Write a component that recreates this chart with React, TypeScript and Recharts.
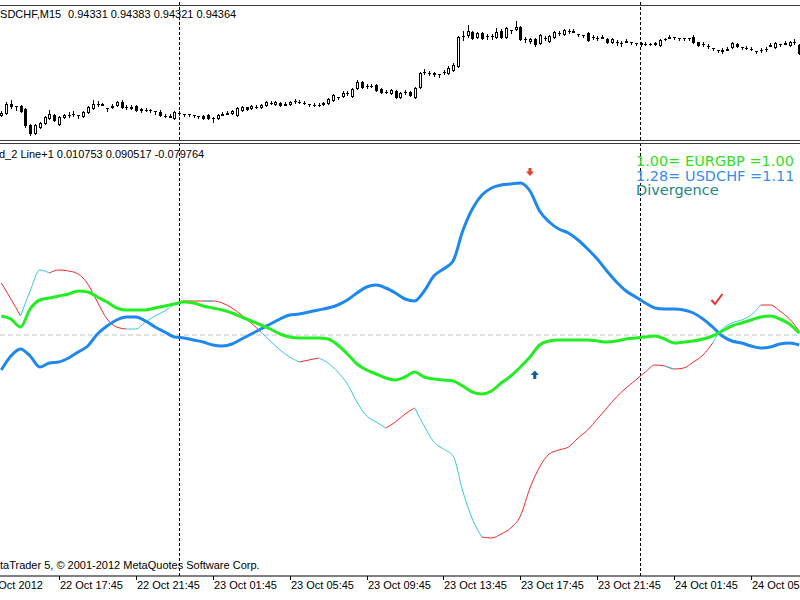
import React from 'react';
import { ComposedChart, Bar, Line, Scatter, XAxis, YAxis, ReferenceLine } from 'recharts';

// USDCHF M15 candles, prices in points (x 0.00001)
const opens = [
  94080, 94088, 94124, 94116, 94116, 94104, 94040, 94008, 94032, 94048,
  94068, 94080, 94044, 94072, 94080, 94084, 94080, 94076, 94092, 94108,
  94124, 94120, 94108, 94112, 94120, 94132, 94112, 94112, 94116, 94104,
  94100, 94100, 94096, 94092, 94076, 94072, 94068, 94088, 94084, 94084,
  94080, 94076, 94076, 94080, 94068, 94068, 94080, 94084, 94088, 94080,
  94100, 94112, 94108, 94112, 94112, 94120, 94128, 94124, 94128, 94120,
  94124, 94136, 94132, 94128, 94124, 94120, 94120, 94124, 94128, 94140,
  94152, 94156, 94168, 94156, 94188, 94212, 94196, 94196, 94200, 94184,
  94172, 94168, 94176, 94152, 94172, 94172, 94152, 94192, 94252, 94248,
  94248, 94244, 94252, 94248, 94260, 94276, 94396, 94400, 94412, 94392,
  94408, 94396, 94396, 94392, 94416, 94392, 94420, 94424, 94432, 94384,
  94376, 94384, 94368, 94388, 94376, 94392, 94408, 94404, 94416, 94412,
  94404, 94400, 94408, 94392, 94388, 94388, 94384, 94372, 94372, 94368,
  94372, 94372, 94368, 94368, 94364, 94364, 94364, 94360, 94384, 94388,
  94392, 94388, 94388, 94388, 94392, 94372, 94364, 94356, 94348, 94340,
  94336, 94340, 94352, 94364, 94352, 94348, 94344, 94336, 94340, 94344,
  94356, 94352, 94364, 94364, 94360, 94372, 94360,
];
const highs = [
  94096, 94132, 94140, 94116, 94120, 94108, 94044, 94044, 94052, 94076,
  94100, 94084, 94076, 94084, 94092, 94096, 94080, 94096, 94116, 94140,
  94136, 94128, 94108, 94124, 94136, 94140, 94120, 94120, 94120, 94108,
  94108, 94104, 94096, 94100, 94084, 94084, 94096, 94096, 94084, 94084,
  94080, 94076, 94080, 94084, 94072, 94084, 94092, 94096, 94100, 94112,
  94116, 94112, 94120, 94120, 94124, 94136, 94136, 94136, 94132, 94132,
  94136, 94144, 94140, 94136, 94124, 94128, 94128, 94132, 94148, 94164,
  94152, 94176, 94176, 94188, 94220, 94216, 94204, 94204, 94204, 94188,
  94180, 94184, 94180, 94172, 94180, 94176, 94192, 94252, 94264, 94256,
  94252, 94244, 94260, 94276, 94288, 94396, 94416, 94440, 94416, 94412,
  94412, 94404, 94404, 94428, 94424, 94432, 94420, 94456, 94436, 94392,
  94388, 94388, 94404, 94396, 94400, 94416, 94416, 94424, 94424, 94424,
  94404, 94400, 94412, 94400, 94396, 94400, 94388, 94388, 94380, 94376,
  94384, 94372, 94368, 94372, 94372, 94368, 94372, 94384, 94388, 94400,
  94392, 94388, 94388, 94388, 94400, 94372, 94372, 94364, 94348, 94340,
  94348, 94352, 94372, 94368, 94352, 94356, 94352, 94336, 94348, 94352,
  94368, 94372, 94364, 94376, 94376, 94384, 94364,
];
const lows = [
  94076, 94084, 94108, 94100, 94092, 94032, 94000, 94004, 94028, 94044,
  94064, 94056, 94040, 94068, 94072, 94076, 94068, 94072, 94088, 94104,
  94116, 94120, 94096, 94108, 94116, 94108, 94104, 94104, 94096, 94092,
  94096, 94092, 94084, 94076, 94072, 94072, 94064, 94080, 94076, 94076,
  94072, 94068, 94064, 94064, 94052, 94064, 94080, 94084, 94084, 94076,
  94096, 94100, 94104, 94108, 94108, 94116, 94124, 94120, 94116, 94120,
  94120, 94128, 94128, 94124, 94116, 94116, 94116, 94120, 94124, 94136,
  94144, 94152, 94160, 94152, 94184, 94188, 94188, 94192, 94176, 94168,
  94168, 94164, 94148, 94148, 94164, 94156, 94148, 94188, 94244, 94240,
  94236, 94232, 94244, 94244, 94256, 94272, 94380, 94392, 94384, 94388,
  94384, 94384, 94384, 94388, 94388, 94388, 94408, 94420, 94380, 94372,
  94368, 94356, 94364, 94380, 94372, 94388, 94400, 94400, 94408, 94412,
  94396, 94392, 94376, 94384, 94380, 94388, 94368, 94368, 94360, 94356,
  94372, 94364, 94360, 94356, 94360, 94360, 94360, 94356, 94380, 94388,
  94384, 94380, 94380, 94380, 94368, 94356, 94356, 94348, 94340, 94332,
  94328, 94340, 94348, 94352, 94344, 94344, 94340, 94328, 94332, 94336,
  94356, 94348, 94356, 94364, 94356, 94364, 94324,
];
const closes = [
  94088, 94124, 94116, 94116, 94096, 94040, 94008, 94040, 94048, 94072,
  94084, 94060, 94072, 94080, 94080, 94084, 94080, 94092, 94112, 94124,
  94124, 94124, 94108, 94116, 94132, 94112, 94112, 94108, 94100, 94100,
  94100, 94100, 94096, 94080, 94076, 94076, 94092, 94088, 94084, 94084,
  94080, 94076, 94068, 94068, 94068, 94080, 94084, 94088, 94096, 94108,
  94112, 94104, 94116, 94112, 94120, 94132, 94128, 94132, 94120, 94124,
  94132, 94136, 94132, 94128, 94124, 94120, 94120, 94128, 94144, 94160,
  94152, 94168, 94168, 94184, 94212, 94192, 94196, 94196, 94180, 94172,
  94172, 94180, 94152, 94168, 94172, 94160, 94188, 94248, 94252, 94248,
  94244, 94244, 94252, 94268, 94280, 94392, 94396, 94416, 94388, 94408,
  94388, 94396, 94396, 94412, 94392, 94428, 94420, 94432, 94384, 94384,
  94384, 94364, 94400, 94388, 94396, 94412, 94408, 94420, 94416, 94416,
  94404, 94400, 94380, 94392, 94388, 94392, 94372, 94384, 94372, 94368,
  94376, 94372, 94368, 94364, 94364, 94364, 94368, 94380, 94384, 94392,
  94392, 94388, 94388, 94388, 94372, 94360, 94364, 94356, 94348, 94340,
  94340, 94344, 94368, 94356, 94352, 94348, 94344, 94336, 94340, 94344,
  94360, 94368, 94364, 94368, 94372, 94372, 94328,
];

// indicator lines, one value every 2 bars, in thousandths
const eurgbp = [
  19, 16, 8, 26, 35, 37, 39, 41, 44, 43,
  38, 33, 27, 25, 25, 25, 27, 29, 31, 33,
  32, 29, 27, 25, 22, 18, 14, 10, 6, 1,
  -2, -3, -3, -3, -4, -10, -19, -29, -35, -39,
  -43, -45, -42, -37, -42, -44, -45, -46, -51, -57,
  -59, -56, -48, -41, -32, -22, -10, -6, -5, -5,
  -5, -5, -6, -7, -6, -4, -3, -2, -1, -4,
  -8, -7, -6, -4, -1, 4, 9, 12, 15, 18,
  19, 16, 11, 2,
];
const usdchf = [
  -35, -21, -14, -21, -32, -28, -27, -23, -17, -11,
  1, 9, 15, 18, 18, 14, 8, 3, -2, -3,
  -5, -7, -10, -11, -9, -4, 1, 6, 11, 16,
  20, 21, 23, 25, 27, 30, 35, 42, 48, 50,
  47, 42, 36, 34, 44, 59, 66, 74, 104, 126,
  140, 147, 150, 151, 152, 144, 124, 113, 106, 102,
  95, 86, 76, 64, 53, 44, 38, 32, 27, 26,
  26, 25, 22, 16, 8, -1, -6, -8, -11, -13,
  -12, -9, -8, -10,
];
const divergence = [
  52, 36, 19, 44, 65, 62, 65, 64, 61, 51,
  33, 16, 8, 6, 6, 13, 19, 24, 31, 34,
  34, 34, 34, 32, 27, 20, 12, 3, -6, -15,
  -22, -27, -25, -23, -28, -37, -49, -67, -81, -87,
  -93, -87, -79, -73, -91, -107, -114, -121, -156, -184,
  -202, -203, -199, -193, -181, -153, -132, -119, -115, -112,
  -103, -95, -84, -73, -62, -53, -45, -37, -30, -31,
  -34, -33, -27, -20, -8, 6, 12, 15, 20, 30,
  30, 24, 16, 4,
];
// colour of each divergence segment: r = red, c = cyan
const divColors = 'rrccc' + 'rrrrrrrr' + 'ccccc' + 'rrr' + 'c' + 'rrrrr' + 'cccc' + 'rr' + 'ccccccc' + 'rrr' +
  'ccccccc' + 'rrrrrrrrrrrrrrrrrrr' + 'c' + 'rrrr' + 'ccccc' + 'rrrr';

const tickBars = [-4, 12, 28, 44, 60, 76, 92, 108, 124, 140, 156];
const tickLabels = [
  '22 Oct 2012', '22 Oct 17:45', '22 Oct 21:45', '23 Oct 01:45', '23 Oct 05:45', '23 Oct 09:45',
  '23 Oct 13:45', '23 Oct 17:45', '23 Oct 21:45', '24 Oct 01:45', '24 Oct 05:45',
];
const daySeparators = [37, 133];
const sellArrows = [{ i: 110, v: 0.163 }];
const buyArrows = [{ i: 111, v: -0.04 }];
const checkMarks = [{ i: 149, v: 0.036 }];

const X_DOMAIN: [number, number] = [-0.27, 166.18];

const candles = opens.map((o, i) => ({
  i,
  open: o / 1e5,
  high: highs[i] / 1e5,
  low: lows[i] / 1e5,
  close: closes[i] / 1e5,
  range: [lows[i] / 1e5, highs[i] / 1e5],
}));

const indData = eurgbp.map((g, k) => {
  const seg = (c: string) => divColors[k] === c || divColors[k - 1] === c;
  return {
    i: k * 2,
    green: g / 1000,
    blue: usdchf[k] / 1000,
    red: seg('r') ? divergence[k] / 1000 : null,
    cyan: seg('c') ? divergence[k] / 1000 : null,
  };
});

const Candle = (p: any) => {
  let { x, y, width, height } = p;
  const d = p.payload;
  if (x == null || !d) return null;
  if (height < 0) {
    y += height;
    height = -height;
  }
  const cx = Math.round(x + width / 2);
  const k = d.high > d.low ? height / (d.high - d.low) : 0;
  const yo = Math.round(y + (d.high - d.open) * k);
  const yc = Math.round(y + (d.high - d.close) * k);
  const top = Math.min(yo, yc);
  const bot = Math.max(yo, yc);
  const yh = Math.round(y);
  const yl = Math.round(y + height);
  return (
    <g shapeRendering="crispEdges">
      <line x1={cx + 0.5} x2={cx + 0.5} y1={yh} y2={yl + 1} stroke="#000" />
      {d.close > d.open ? (
        <rect x={cx - 0.5} y={top + 0.5} width={2} height={Math.max(bot - top, 1)} fill="#fff" stroke="#000" />
      ) : d.close < d.open ? (
        <rect x={cx - 1} y={top} width={3} height={Math.max(bot - top, 1) + 1} fill="#000" />
      ) : (
        <line x1={cx - 1} x2={cx + 2} y1={top + 0.5} y2={top + 0.5} stroke="#000" />
      )}
    </g>
  );
};

const TimeTick = (p: any) => {
  const { x, y, payload } = p;
  const xx = Math.round(x);
  const label = tickLabels[tickBars.indexOf(payload.value)];
  return (
    <g>
      <line x1={xx + 0.5} x2={xx + 0.5} y1={y} y2={y + 4} stroke="#000" />
      <text x={xx + 1} y={y + 13} fontFamily="Liberation Sans" fontSize={11} fill="#000" textAnchor="start">
        {label}
      </text>
    </g>
  );
};

const SellArrow = (p: any) => {
  const { cx, cy } = p;
  return <path d={`M${cx - 1.5},${cy - 4} h3 v3.5 h2.5 l-4,4.5 l-4,-4.5 h2.5 z`} fill="#e04020" />;
};
const BuyArrow = (p: any) => {
  const { cx, cy } = p;
  return <path d={`M${cx},${cy - 4.5} l4,4.5 h-2.5 v4 h-3 v-4 h-2.5 z`} fill="#0a5aa0" />;
};
const CheckMark = (p: any) => {
  const { cx, cy } = p;
  return (
    <path d={`M${cx - 6},${cy + 1} L${cx - 2.5},${cy + 5} L${cx + 5},${cy - 5}`} fill="none" stroke="#e83030" strokeWidth={2} />
  );
};

const sepLines = (h: number) =>
  daySeparators.map((b) => (
    <ReferenceLine key={`sep${b}-${h}`} x={b} stroke="#000" strokeDasharray="3 2" shapeRendering="crispEdges" />
  ));

export default function App() {
  return (
    <div style={{ position: 'absolute', left: 0, top: 0, width: 800, height: 600, overflow: 'hidden', background: '#fff' }}>
      <div style={{ position: 'absolute', left: 0, top: 0 }}>
        <ComposedChart width={800} height={140} data={candles} margin={{ top: 0, right: 0, bottom: 0, left: 0 }}>
          <XAxis dataKey="i" type="number" domain={X_DOMAIN} allowDataOverflow hide />
          <YAxis type="number" domain={[0.9398, 0.9454]} allowDataOverflow hide />
          {sepLines(1)}
          <Bar dataKey="range" barSize={3} shape={<Candle />} isAnimationActive={false} />
        </ComposedChart>
      </div>
      <div style={{ position: 'absolute', left: 0, top: 144 }}>
        <ComposedChart width={800} height={456} data={indData} margin={{ top: 0, right: 0, bottom: 0, left: 0 }}>
          <XAxis
            dataKey="i"
            type="number"
            domain={X_DOMAIN}
            allowDataOverflow
            ticks={tickBars}
            interval={0}
            height={24}
            tickLine={false}
            tickSize={0}
            tickMargin={0}
            tick={<TimeTick />}
            axisLine={{ stroke: '#000' }}
          />
          <YAxis dataKey="v" type="number" domain={[-0.241, 0.191]} allowDataOverflow hide />
          <ReferenceLine y={0} stroke="#c4c4c4" strokeDasharray="5 3" />
          {sepLines(2)}
          <Line dataKey="red" type="monotone" stroke="#ee2a2a" strokeWidth={1} dot={false} activeDot={false} isAnimationActive={false} />
          <Line dataKey="cyan" type="monotone" stroke="#38c8dc" strokeWidth={1} dot={false} activeDot={false} isAnimationActive={false} />
          <Line dataKey="blue" type="monotone" stroke="#1e88ee" strokeWidth={3} dot={false} activeDot={false} isAnimationActive={false} />
          <Line dataKey="green" type="monotone" stroke="#22ee22" strokeWidth={3} dot={false} activeDot={false} isAnimationActive={false} />
          <Scatter data={sellArrows} dataKey="v" shape={<SellArrow />} isAnimationActive={false} />
          <Scatter data={buyArrows} dataKey="v" shape={<BuyArrow />} isAnimationActive={false} />
          <Scatter data={checkMarks} dataKey="v" shape={<CheckMark />} isAnimationActive={false} />
        </ComposedChart>
      </div>
      <svg width={800} height={600} style={{ position: 'absolute', left: 0, top: 0, pointerEvents: 'none' }}>
        <g shapeRendering="crispEdges" stroke="#3a3a3a">
          <line x1={0} x2={800} y1={5.5} y2={5.5} />
          <line x1={0} x2={800} y1={140.5} y2={140.5} />
          <line x1={0} x2={800} y1={143.5} y2={143.5} />
        </g>
        <g fontFamily="Liberation Sans" fontSize={11} fill="#000">
          <text x={-7.9} y={17.5}>USDCHF,M15</text>
          <text x={68} y={17.5}>0.94331 0.94383 0.94321 0.94364</text>
          <text x={-1} y={157.5}>d_2 Line+1 0.010753 0.090517 -0.079764</text>
          <text x={-15.3} y={569}>MetaTrader 5, © 2001-2012 MetaQuotes Software Corp.</text>
        </g>
        <g fontFamily="DejaVu Sans" fontSize={14.5} style={{ whiteSpace: 'pre' }}>
          <text x={636} y={166} fill="#33dd22">1.00= EURGBP  =1.00</text>
          <text x={636} y={181} fill="#3a8ee6">1.28= USDCHF  =1.11</text>
          <text x={636} y={195} fill="#1f8585">Divergence</text>
        </g>
      </svg>
    </div>
  );
}
